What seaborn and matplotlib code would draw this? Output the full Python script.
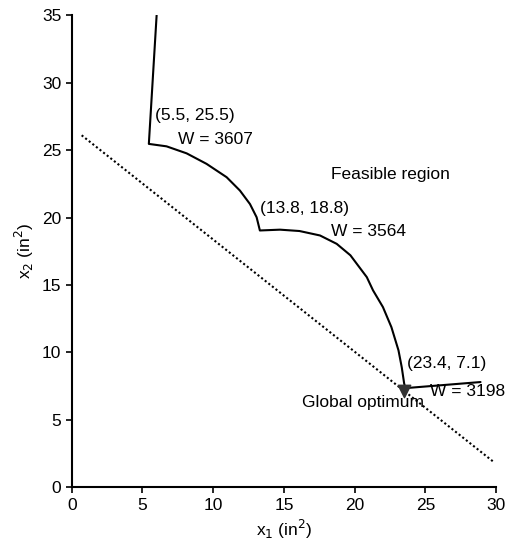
import matplotlib
matplotlib.use("Agg")
import matplotlib.pyplot as plt
import seaborn as sns
import pandas as pd

# Boundary of feasible region
boundary_x = [6.0, 5.45, 6.70, 8.12, 9.53, 10.95, 11.89, 12.60, 13.07, 13.30,
              14.72, 16.1, 17.55, 18.73, 19.7, 20.86, 21.3, 22.0, 22.6, 23.1, 23.33, 23.5, 23.6]
boundary_y = [35.0, 25.46, 25.28, 24.76, 23.98, 22.99, 22.0, 21.0, 20.02, 19.04,
              19.1, 19.0, 18.67, 18.05, 17.2, 15.58, 14.6, 13.36, 11.87, 10.15, 8.9, 7.7, 7.3]
right_x = [23.6, 28.9]
right_y = [7.35, 7.8]

# Dotted objective line
line_x = [0.7, 29.8]
line_y = [26.1, 1.9]

# Optimum marker
opt_x = [23.5]
opt_y = [7.1]

xticks = [0, 5, 10, 15, 20, 25, 30]
yticks = [0, 5, 10, 15, 20, 25, 30, 35]

sns.set_theme(style="ticks")
plt.rcParams['font.family'] = ['Liberation Sans', 'DejaVu Sans']

fig = plt.figure(figsize=(5.2, 5.45), dpi=100)
ax = fig.add_axes([0.138, 0.106, 0.816, 0.866])

df_b = pd.DataFrame({"x": boundary_x, "y": boundary_y})
df_r = pd.DataFrame({"x": right_x, "y": right_y})
df_l = pd.DataFrame({"x": line_x, "y": line_y})

sns.lineplot(data=df_b, x="x", y="y", sort=False, color="black", lw=1.5, ax=ax)
sns.lineplot(data=df_r, x="x", y="y", sort=False, color="black", lw=1.5, ax=ax)
sns.lineplot(data=df_l, x="x", y="y", sort=False, color="black", lw=1.5,
             linestyle=(0, (1, 1.2)), ax=ax)
ax.scatter(opt_x, opt_y, marker="v", s=80, color="#333333", zorder=5)

fs = 12.5
kw = dict(fontsize=fs, va="center", ha="left", color="black")
ax.text(5.9, 27.6, "(5.5, 25.5)", **kw)
ax.text(7.5, 25.8, "W = 3607", **kw)
ax.text(18.3, 23.2, "Feasible region", **kw)
ax.text(13.3, 20.7, "(13.8, 18.8)", **kw)
ax.text(18.3, 19.0, "W = 3564", **kw)
ax.text(23.7, 9.2, "(23.4, 7.1)", **kw)
ax.text(25.3, 7.1, "W = 3198", **kw)
ax.text(16.3, 6.3, "Global optimum", **kw)

ax.set_xlim(0, 30)
ax.set_ylim(0, 35)
ax.set_xticks(xticks)
ax.set_yticks(yticks)
ax.tick_params(labelsize=12.5, length=4, width=1.2, color="black", labelcolor="black")
for s in ["left", "bottom"]:
    ax.spines[s].set_linewidth(1.5)
    ax.spines[s].set_color("black")
sns.despine(ax=ax)
ax.set_xlabel("x$_1$ (in$^2$)", fontsize=12.5, color="black")
ax.set_ylabel("x$_2$ (in$^2$)", fontsize=12.5, color="black")

fig.savefig("out.png", dpi=100)
